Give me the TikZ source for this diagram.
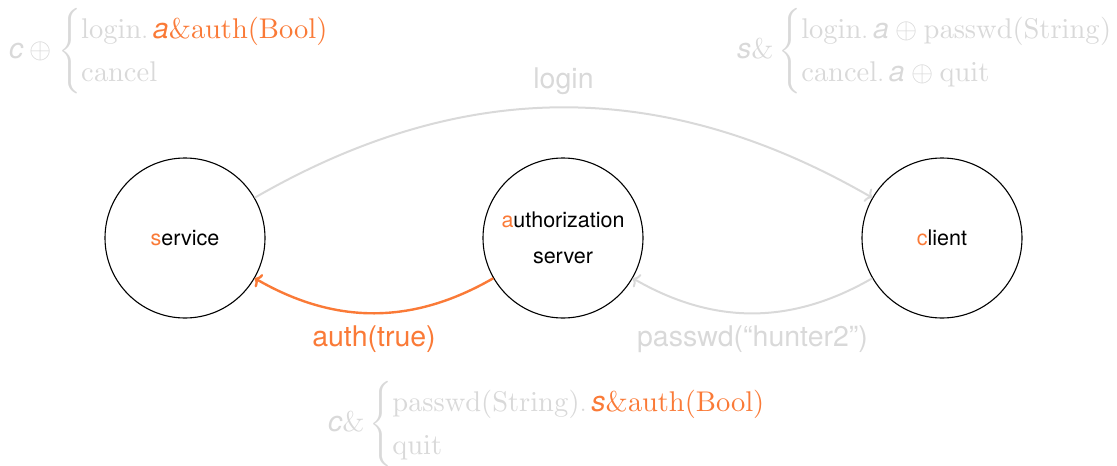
\documentclass[tikz,border=0pt]{standalone}
\usepackage{amsmath}
\usepackage[no-math]{fontspec}
\setmainfont{TeX Gyre Heros}
\usetikzlibrary{arrows.meta}

% upright math text: the 10pt design of Computer Modern, scaled to any size
\DeclareFontFamily{OT1}{cmr}{\hyphenchar\font45 }
\DeclareFontShape{OT1}{cmr}{m}{n}{<-> cmr10}{}
\DeclareFontFamily{OMS}{cmsy}{\skewchar\font48 }
\DeclareFontShape{OMS}{cmsy}{m}{n}{<-> cmsy10}{}
\DeclareFontFamily{OMX}{cmex}{}
\DeclareFontShape{OMX}{cmex}{m}{n}{<-> cmex10}{}

\definecolor{accent}{RGB}{250,122,55}
\definecolor{faint}{RGB}{217,217,217}

% participant roles are set in sans italic inside the session types
\newcommand{\role}[1]{\text{\itshape #1}}
\newcommand{\hl}[1]{\textcolor{accent}{#1}}

\tikzset{
  party/.style={circle, draw=black, line width=1.1pt, minimum size=160pt,
    inner sep=0pt, align=center, font=\fontsize{21.5}{36}\selectfont},
  msg/.style={line width=2pt, -{To[length=6pt,width=15pt]}},
  msglabel/.style={inner sep=0pt, font=\fontsize{28.5}{34}\selectfont},
  stype/.style={anchor=west, inner sep=0pt, text=faint,
    font=\fontsize{28.5}{36}\selectfont},
}

\begin{document}
\begin{tikzpicture}[x=1pt,y=1pt]
  \useasboundingbox (0,0) rectangle (1117,-466);

  % participants
  \node[party] (srv)  at (185,-238) {\hl{s}ervice};
  \node[party] (auth) at (563,-238) {\hl{a}uthorization\\server};
  \node[party] (cli)  at (942,-238) {\hl{c}lient};

  % messages
  \draw[msg, faint] (srv) to[bend left=30]
    node[msglabel, midway, above=12pt, text=faint] {login} (cli);
  \draw[msg, faint] (cli) to[bend left=30]
    node[msglabel, midway, below=11pt, text=faint] {passwd(“hunter2”)} (auth);
  \draw[msg, accent, line width=2.4pt] (auth) to[bend left=30]
    node[msglabel, midway, below=11pt, text=accent] {auth(true)} (srv);

  % local session types
  \node[stype] (tsrv) at (9,-51) {$\role{c} \oplus
    \begin{cases}
      \mathrm{login}.\,\hl{\role{a}\&\mathrm{auth}(\mathrm{Bool})}\\
      \mathrm{cancel}
    \end{cases}$};
  \node[stype] (tcli) at (737,-51) {$\role{s}\&
    \begin{cases}
      \mathrm{login}.\,\role{a} \oplus \mathrm{passwd}(\mathrm{String})\\
      \mathrm{cancel}.\,\role{a} \oplus \mathrm{quit}
    \end{cases}$};
  \node[stype] (tauth) at (328,-424) {$\role{c}\&
    \begin{cases}
      \mathrm{passwd}(\mathrm{String}).\,\hl{\role{s}\&\mathrm{auth}(\mathrm{Bool})}\\
      \mathrm{quit}
    \end{cases}$};
\end{tikzpicture}
\end{document}
